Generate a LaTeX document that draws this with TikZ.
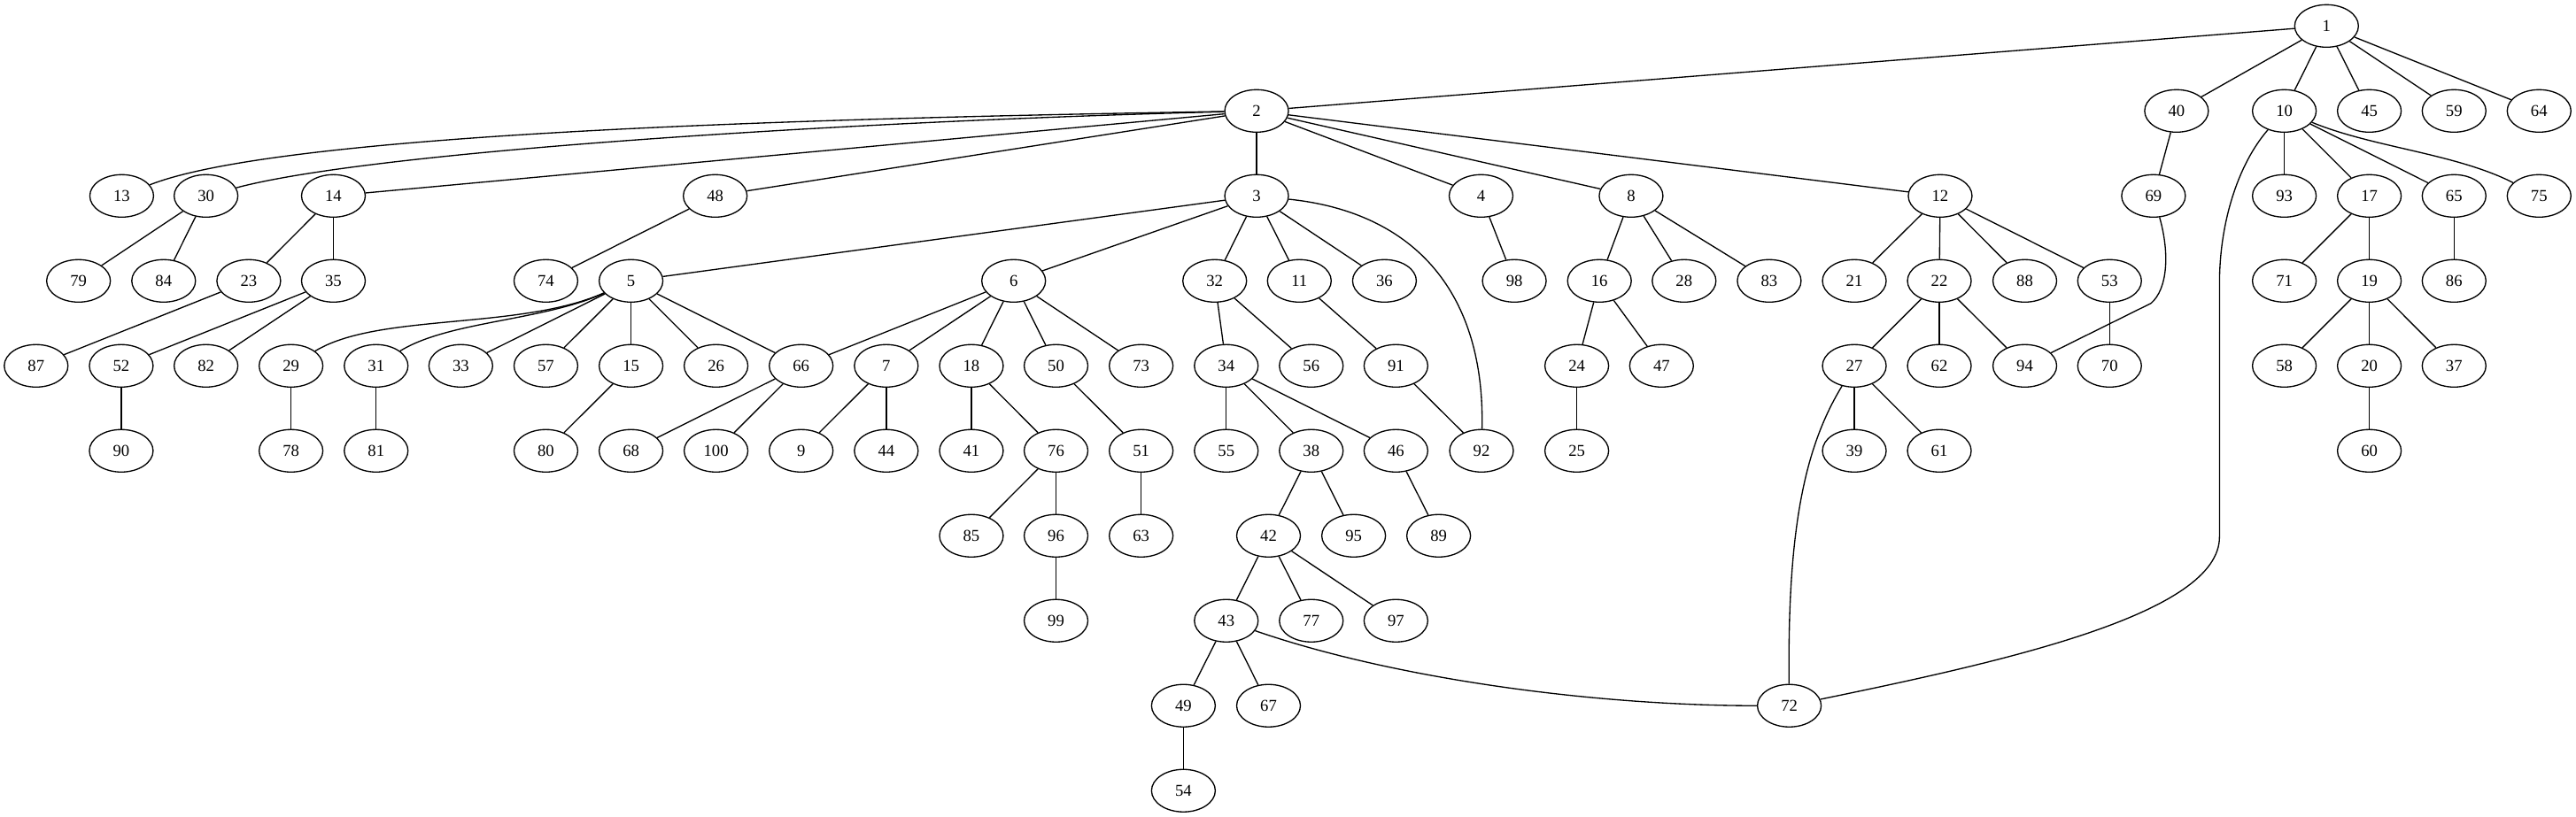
\documentclass[tikz,border=0pt]{standalone}
\usepackage{fontspec}
\setmainfont{Liberation Serif}
\usetikzlibrary{shapes.geometric}
\begin{document}
\begin{tikzpicture}[x=1bp,y=1bp,
  nd/.style={draw, ellipse, minimum width=54bp, minimum height=36bp, inner sep=0pt, line width=1bp, font=\fontsize{14bp}{16bp}\selectfont},
  ed/.style={line width=1bp}]
\fill[white] (0,0) rectangle (2182,-692);
\useasboundingbox (0,0) rectangle (2182,-692);
% rank 0
\node[nd] (n1) at (1970.7,-22) {1};
% rank 1
\node[nd] (n2) at (1064.4,-94) {2};
\node[nd] (n40) at (1843.6,-94) {40};
\node[nd] (n10) at (1934.9,-94) {10};
\node[nd] (n45) at (2006.9,-94) {45};
\node[nd] (n59) at (2078.7,-94) {59};
\node[nd] (n64) at (2150.7,-94) {64};
% rank 2
\node[nd] (n13) at (103.1,-166) {13};
\node[nd] (n30) at (174.5,-166) {30};
\node[nd] (n14) at (282.4,-166) {14};
\node[nd] (n48) at (605.8,-166) {48};
\node[nd] (n3) at (1064.4,-166) {3};
\node[nd] (n4) at (1254.5,-166) {4};
\node[nd] (n8) at (1381.6,-166) {8};
\node[nd] (n12) at (1643.4,-166) {12};
\node[nd] (n69) at (1824.1,-166) {69};
\node[nd] (n93) at (1934.9,-166) {93};
\node[nd] (n17) at (2006.9,-166) {17};
\node[nd] (n65) at (2078.7,-166) {65};
\node[nd] (n75) at (2150.7,-166) {75};
% rank 3
\node[nd] (n79) at (66.5,-238) {79};
\node[nd] (n84) at (138.6,-238) {84};
\node[nd] (n23) at (210.7,-238) {23};
\node[nd] (n35) at (282.4,-238) {35};
\node[nd] (n74) at (462.4,-238) {74};
\node[nd] (n5) at (534.5,-238) {5};
\node[nd] (n6) at (858.6,-238) {6};
\node[nd] (n32) at (1028.9,-238) {32};
\node[nd] (n11) at (1100.6,-238) {11};
\node[nd] (n36) at (1172.7,-238) {36};
\node[nd] (n98) at (1282.7,-238) {98};
\node[nd] (n16) at (1354.8,-238) {16};
\node[nd] (n28) at (1426.5,-238) {28};
\node[nd] (n83) at (1498.6,-238) {83};
\node[nd] (n21) at (1570.7,-238) {21};
\node[nd] (n22) at (1642.7,-238) {22};
\node[nd] (n88) at (1715.1,-238) {88};
\node[nd] (n53) at (1786.9,-238) {53};
\node[nd] (n71) at (1934.9,-238) {71};
\node[nd] (n19) at (2006.9,-238) {19};
\node[nd] (n86) at (2078.7,-238) {86};
% rank 4
\node[nd] (n87) at (30.6,-310) {87};
\node[nd] (n52) at (102.7,-310) {52};
\node[nd] (n82) at (174.5,-310) {82};
\node[nd] (n29) at (246.5,-310) {29};
\node[nd] (n31) at (318.6,-310) {31};
\node[nd] (n33) at (390.3,-310) {33};
\node[nd] (n57) at (462.4,-310) {57};
\node[nd] (n15) at (534.5,-310) {15};
\node[nd] (n26) at (606.5,-310) {26};
\node[nd] (n66) at (678.6,-310) {66};
\node[nd] (n7) at (750.7,-310) {7};
\node[nd] (n18) at (822.8,-310) {18};
\node[nd] (n50) at (894.5,-310) {50};
\node[nd] (n73) at (966.6,-310) {73};
\node[nd] (n34) at (1038.7,-310) {34};
\node[nd] (n56) at (1110.7,-310) {56};
\node[nd] (n91) at (1182.4,-310) {91};
\node[nd] (n24) at (1335.6,-310) {24};
\node[nd] (n47) at (1407.4,-310) {47};
\node[nd] (n27) at (1570.7,-310) {27};
\node[nd] (n62) at (1642.7,-310) {62};
\node[nd] (n94) at (1715.1,-310) {94};
\node[nd] (n70) at (1786.9,-310) {70};
\node[nd] (n58) at (1934.9,-310) {58};
\node[nd] (n20) at (2006.9,-310) {20};
\node[nd] (n37) at (2078.7,-310) {37};
% rank 5
\node[nd] (n90) at (102.7,-382) {90};
\node[nd] (n78) at (246.5,-382) {78};
\node[nd] (n81) at (318.6,-382) {81};
\node[nd] (n80) at (462.4,-382) {80};
\node[nd] (n68) at (534.5,-382) {68};
\node[nd] (n100) at (606.5,-382) {100};
\node[nd] (n9) at (678.6,-382) {9};
\node[nd] (n44) at (750.7,-382) {44};
\node[nd] (n41) at (822.8,-382) {41};
\node[nd] (n76) at (894.5,-382) {76};
\node[nd] (n51) at (966.6,-382) {51};
\node[nd] (n55) at (1038.7,-382) {55};
\node[nd] (n38) at (1110.7,-382) {38};
\node[nd] (n46) at (1182.4,-382) {46};
\node[nd] (n92) at (1254.9,-382) {92};
\node[nd] (n25) at (1335.6,-382) {25};
\node[nd] (n39) at (1570.7,-382) {39};
\node[nd] (n61) at (1642.7,-382) {61};
\node[nd] (n60) at (2006.9,-382) {60};
% rank 6
\node[nd] (n85) at (822.8,-454) {85};
\node[nd] (n96) at (894.5,-454) {96};
\node[nd] (n63) at (966.6,-454) {63};
\node[nd] (n42) at (1074.5,-454) {42};
\node[nd] (n95) at (1146.6,-454) {95};
\node[nd] (n89) at (1218.6,-454) {89};
% rank 7
\node[nd] (n99) at (894.5,-526) {99};
\node[nd] (n43) at (1038.7,-526) {43};
\node[nd] (n77) at (1110.7,-526) {77};
\node[nd] (n97) at (1182.4,-526) {97};
% rank 8
\node[nd] (n49) at (1002.4,-598) {49};
\node[nd] (n67) at (1074.5,-598) {67};
\node[nd] (n72) at (1515.6,-598) {72};
% rank 9
\node[nd] (n54) at (1002.4,-670) {54};

% straight edges
\foreach \a/\b in {1/2,1/40,1/10,1/45,1/59,1/64,
  2/14,2/48,2/3,2/4,2/8,2/12,
  3/5,3/6,3/32,3/11,3/36,
  4/98,8/16,8/28,8/83,
  12/21,12/22,12/88,12/53,
  40/69,10/93,10/17,10/65,
  17/71,17/19,65/86,19/58,19/20,19/37,20/60,53/70,
  22/27,22/62,22/94,27/39,27/61,
  16/24,16/47,24/25,11/91,91/92,
  32/34,32/56,34/55,34/38,34/46,38/42,38/95,46/89,
  42/43,42/77,42/97,43/49,43/67,49/54,
  6/66,6/7,6/18,6/50,6/73,7/9,7/44,18/41,18/76,
  76/85,76/96,96/99,50/51,51/63,66/68,66/100,
  5/33,5/57,5/15,5/26,5/66,15/80,29/78,31/81,
  30/79,30/84,14/23,14/35,23/87,35/52,35/82,52/90,48/74}
  \draw[ed] (n\a) -- (n\b);

% curved edges
\draw[ed] (n2) .. controls (700,-100) and (240,-112) .. (n13);
\draw[ed] (n2) .. controls (740,-102) and (320,-127) .. (n30);
\draw[ed] (n3) .. controls (1200,-180) and (1258,-250) .. (n92);
\draw[ed] (n5) .. controls (440,-280) and (320,-265) .. (n29);
\draw[ed] (n5) .. controls (460,-272) and (380,-272) .. (n31);
\draw[ed] (n69) .. controls (1838,-215) and (1836,-245) .. (1822,-257) -- (n94);
\draw[ed] (n10) .. controls (1895,-140) and (1880,-190) .. (1880,-240) -- (1880,-455) .. controls (1880,-520) and (1700,-560) .. (n72);
\draw[ed] (n10) .. controls (2010,-125) and (2080,-130) .. (n75);
\draw[ed] (n27) .. controls (1528,-380) and (1514,-450) .. (n72);
\draw[ed] (n43) .. controls (1180,-575) and (1350,-598) .. (n72);
\end{tikzpicture}
\end{document}
